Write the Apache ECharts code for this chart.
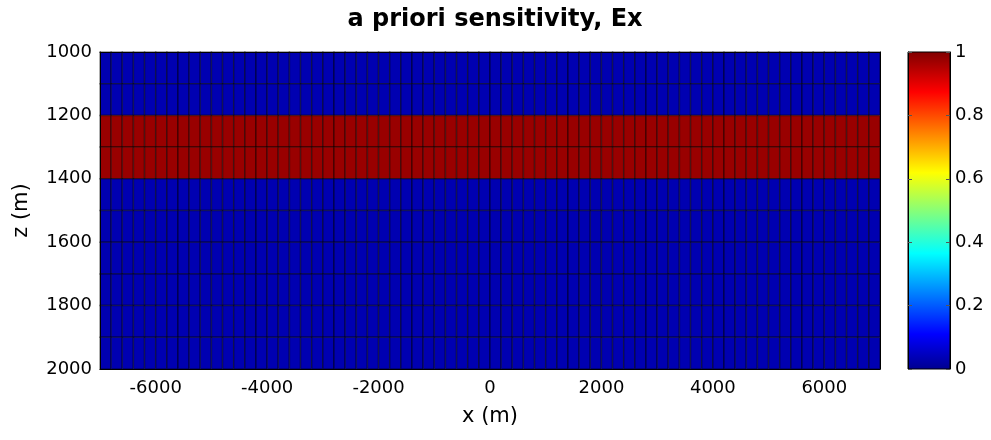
<!DOCTYPE html>
<html>
<head>
<meta charset="utf-8">
<script src="https://cdn.jsdelivr.net/npm/echarts@6/dist/echarts.min.js"></script>
<style>
  html, body { margin: 0; padding: 0; background: #fff; }
  #chart { width: 991px; height: 440px; }
</style>
</head>
<body>
<div id="chart"></div>
<script>
// Model mesh: 200 m wide columns from -7000 to 7000 m, 100 m thick layers from 1000 to 2000 m depth
const xCellEdges = [-7000, -6800, -6600, -6400, -6200, -6000, -5800, -5600, -5400, -5200,
  -5000, -4800, -4600, -4400, -4200, -4000, -3800, -3600, -3400, -3200,
  -3000, -2800, -2600, -2400, -2200, -2000, -1800, -1600, -1400, -1200,
  -1000, -800, -600, -400, -200, 0, 200, 400, 600, 800,
  1000, 1200, 1400, 1600, 1800, 2000, 2200, 2400, 2600, 2800,
  3000, 3200, 3400, 3600, 3800, 4000, 4200, 4400, 4600, 4800,
  5000, 5200, 5400, 5600, 5800, 6000, 6200, 6400, 6600, 6800, 7000];
const zLayerEdges = [1000, 1100, 1200, 1300, 1400, 1500, 1600, 1700, 1800, 1900, 2000];

// A priori sensitivity of each layer (uniform along x)
const layerSensitivity = [0.06, 0.06, 0.96, 0.96, 0.06, 0.06, 0.06, 0.06, 0.06, 0.06];

// Tick labels
const xTicks = [-6000, -4000, -2000, 0, 2000, 4000, 6000];
const zTicks = [1000, 1200, 1400, 1600, 1800, 2000];
const colorTicks = [0, 0.2, 0.4, 0.6, 0.8, 1];

// MATLAB-style jet colormap
const jetStops = [
  [0, '#00008f'], [0.111, '#0000ff'], [0.365, '#00ffff'],
  [0.619, '#ffff00'], [0.873, '#ff0000'], [1, '#800000']
];

const cells = [];
for (let j = 0; j < layerSensitivity.length; j++) {
  for (let i = 0; i < xCellEdges.length - 1; i++) {
    cells.push([xCellEdges[i], zLayerEdges[j], xCellEdges[i + 1], zLayerEdges[j + 1], layerSensitivity[j]]);
  }
}

const FONT = 'DejaVu Sans';
const labelStyle = { color: '#000', fontFamily: FONT, fontSize: 18 };
const frameLine = { show: true, onZero: false, lineStyle: { color: '#000', width: 1 } };

function rectBetween(api) {
  const p0 = api.coord([api.value(0), api.value(1)]);
  const p1 = api.coord([api.value(2), api.value(3)]);
  return {
    x: Math.min(p0[0], p1[0]), y: Math.min(p0[1], p1[1]),
    width: Math.abs(p1[0] - p0[0]), height: Math.abs(p1[1] - p0[1])
  };
}

function renderCell(params, api) {
  return {
    type: 'rect',
    shape: rectBetween(api),
    style: { fill: api.visual('color'), stroke: 'rgba(0,0,0,0.42)', lineWidth: 1.5 }
  };
}

function renderColorbar(params, api) {
  return {
    type: 'rect',
    shape: rectBetween(api),
    style: {
      fill: new echarts.graphic.LinearGradient(0, 1, 0, 0,
        jetStops.map(s => ({ offset: s[0], color: s[1] }))),
      stroke: '#000', lineWidth: 1
    }
  };
}

const chart = echarts.init(document.getElementById('chart'), null, { renderer: 'canvas' });

chart.setOption({
  backgroundColor: '#fff',
  animation: false,
  title: {
    text: 'a priori sensitivity, Ex',
    left: 490, top: 3, textAlign: 'center',
    textStyle: { fontFamily: FONT, fontSize: 24, fontWeight: 'bold', color: '#000' }
  },
  grid: [
    { left: 100, right: 111, top: 52, bottom: 71 },
    { left: 908, top: 52, width: 42, height: 317 }
  ],
  xAxis: [
    {
      gridIndex: 0, type: 'value', min: -7000, max: 7000, interval: 1000,
      name: 'x (m)', nameLocation: 'middle', nameGap: 37,
      nameTextStyle: { color: '#000', fontFamily: FONT, fontSize: 21 },
      axisLine: frameLine,
      axisTick: { show: false }, splitLine: { show: false },
      axisLabel: Object.assign({ margin: 10, formatter: v => xTicks.includes(v) ? String(v) : '' }, labelStyle),
      z: 5
    },
    {
      gridIndex: 0, type: 'value', position: 'top', min: -7000, max: 7000,
      axisLine: frameLine,
      axisTick: { show: false }, axisLabel: { show: false }, splitLine: { show: false }, z: 5
    },
    {
      gridIndex: 1, type: 'value', min: 0, max: 1, show: false
    }
  ],
  yAxis: [
    {
      gridIndex: 0, type: 'value', inverse: true, min: 1000, max: 2000, interval: 200,
      name: 'z (m)', nameLocation: 'middle', nameGap: 68, nameRotate: 90,
      nameTextStyle: { color: '#000', fontFamily: FONT, fontSize: 21 },
      axisLine: frameLine,
      axisTick: { show: false }, splitLine: { show: false },
      axisLabel: Object.assign({ margin: 8, formatter: v => zTicks.includes(v) ? String(v) : '' }, labelStyle),
      z: 5
    },
    {
      gridIndex: 0, type: 'value', position: 'right', inverse: true, min: 1000, max: 2000,
      axisLine: frameLine,
      axisTick: { show: false }, axisLabel: { show: false }, splitLine: { show: false }, z: 5
    },
    {
      gridIndex: 1, type: 'value', position: 'right', min: 0, max: 1, interval: 0.2,
      axisLine: frameLine,
      axisTick: { show: true, inside: true, length: 4, lineStyle: { color: '#555' } },
      splitLine: { show: false },
      axisLabel: Object.assign({ margin: 5, formatter: v => {
        const t = colorTicks.find(c => Math.abs(c - v) < 1e-9);
        return t === undefined ? '' : String(t);
      } }, labelStyle),
      z: 5
    },
    {
      gridIndex: 1, type: 'value', position: 'left', min: 0, max: 1, interval: 0.2,
      axisLine: frameLine,
      axisTick: { show: true, inside: true, length: 4, lineStyle: { color: '#555' } },
      axisLabel: { show: false }, splitLine: { show: false }, z: 5
    }
  ],
  visualMap: {
    type: 'continuous', show: false, min: 0, max: 1,
    seriesIndex: 0, dimension: 4,
    inRange: { color: jetStops.map(s => s[1]) }
  },
  series: [
    {
      type: 'custom', xAxisIndex: 0, yAxisIndex: 0,
      renderItem: renderCell, data: cells, z: 1, silent: true
    },
    {
      type: 'custom', xAxisIndex: 2, yAxisIndex: 2,
      renderItem: renderColorbar, data: [[0, 0, 1, 1]], z: 1, silent: true
    }
  ]
});
</script>
</body>
</html>
